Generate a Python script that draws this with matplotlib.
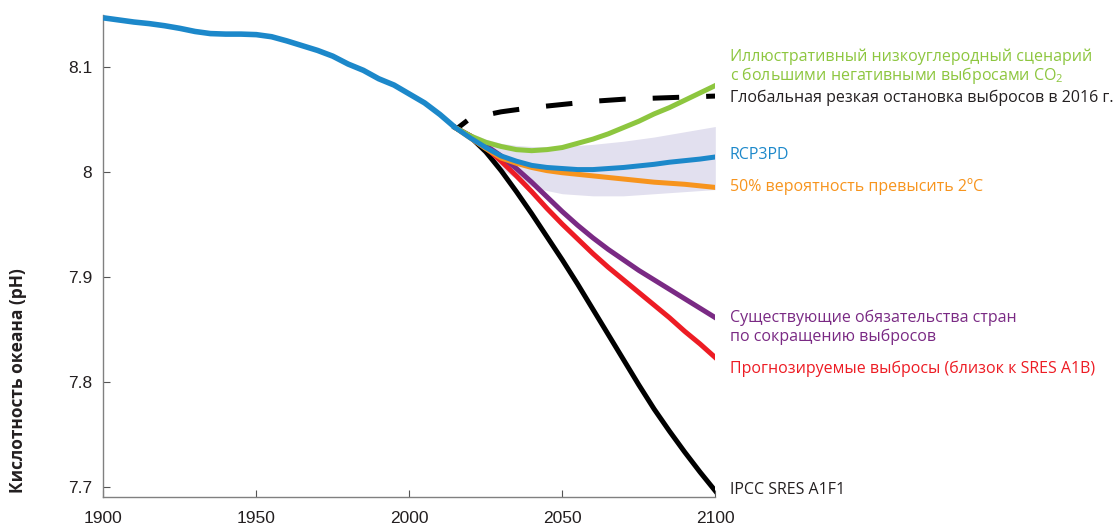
import matplotlib
matplotlib.use("Agg")
import matplotlib.pyplot as plt

# Historical ocean pH
hist_years = [1900, 1905, 1910, 1915, 1920, 1925, 1930, 1935, 1940, 1945, 1950,
              1955, 1960, 1965, 1970, 1975, 1980, 1985, 1990, 1995, 2000, 2005,
              2010, 2015]
hist_ph = [8.1465, 8.1445, 8.1425, 8.1410, 8.1390, 8.1365, 8.1335, 8.1315, 8.1310,
           8.1310, 8.1305, 8.1285, 8.1245, 8.1200, 8.1155, 8.1100, 8.1025, 8.0965,
           8.0885, 8.0825, 8.0740, 8.0655, 8.0545, 8.0420]

# Scenario projections, 2015-2100
proj_years = [2015, 2020, 2025, 2030, 2035, 2040, 2045, 2050, 2055, 2060, 2065,
              2070, 2075, 2080, 2085, 2090, 2095, 2100]
ph_negative_emissions = [8.042, 8.034, 8.028, 8.024, 8.021, 8.020, 8.021, 8.023, 8.027,
                         8.031, 8.036, 8.042, 8.048, 8.055, 8.061, 8.068, 8.075, 8.082]
ph_rcp3pd = [8.042, 8.032, 8.023, 8.015, 8.010, 8.006, 8.004, 8.003, 8.002,
             8.002, 8.003, 8.004, 8.0055, 8.007, 8.009, 8.0105, 8.012, 8.014]
ph_2c_50pct = [8.042, 8.032, 8.022, 8.013, 8.008, 8.004, 8.001, 7.999, 7.9975,
               7.996, 7.9945, 7.993, 7.9915, 7.990, 7.989, 7.988, 7.9865, 7.985]
ph_pledges = [8.042, 8.034, 8.025, 8.015, 8.003, 7.990, 7.976, 7.962, 7.949,
              7.937, 7.926, 7.916, 7.906, 7.897, 7.888, 7.879, 7.870, 7.861]
ph_projected = [8.042, 8.034, 8.023, 8.010, 7.996, 7.981, 7.965, 7.950, 7.936,
                7.922, 7.909, 7.897, 7.885, 7.873, 7.861, 7.848, 7.836, 7.823]
ph_a1f1 = [8.042, 8.033, 8.019, 8.001, 7.981, 7.960, 7.938, 7.916, 7.893,
           7.869, 7.845, 7.821, 7.797, 7.774, 7.753, 7.733, 7.714, 7.696]
band_upper = [8.042, 8.037, 8.031, 8.027, 8.025, 8.024, 8.024, 8.024, 8.025,
              8.026, 8.0275, 8.029, 8.031, 8.033, 8.0355, 8.038, 8.0405, 8.043]
band_lower = [8.042, 8.030, 8.015, 8.003, 7.993, 7.986, 7.982, 7.979, 7.978,
              7.977, 7.977, 7.977, 7.978, 7.979, 7.980, 7.981, 7.982, 7.983]

# Abrupt global stop of emissions in 2016
stop_years = [2016, 2020, 2030, 2040, 2050, 2060, 2070, 2080, 2090, 2100]
stop_ph = [8.042, 8.051, 8.057, 8.061, 8.064, 8.067, 8.069, 8.070, 8.071, 8.072]

x_ticks = [1900, 1950, 2000, 2050, 2100]
y_ticks = [7.7, 7.8, 7.9, 8.0, 8.1]
y_ticklabels = ["7.7", "7.8", "7.9", "8", "8.1"]

C_GREEN = "#8dc63f"
C_BLUE = "#1c88ca"
C_ORANGE = "#f7941d"
C_PURPLE = "#7a2a84"
C_RED = "#ed1c24"
C_BLACK = "#000000"
C_TEXT = "#231f20"
C_BAND = "#e2e0ef"

plt.rcParams["mathtext.fontset"] = "custom"
plt.rcParams["mathtext.rm"] = "Open Sans"

fig = plt.figure(figsize=(11.14, 5.26), dpi=100)
ax = fig.add_axes([0.0927, 0.0557, 0.5494, 0.9158])

LW = 3.6
ax.fill_between(proj_years, band_lower, band_upper, color=C_BAND, lw=0, zorder=1)
ax.plot(stop_years, stop_ph, color=C_BLACK, lw=LW, zorder=2,
        linestyle=(3.0, (5.3, 5.4)), solid_capstyle="butt", dash_capstyle="butt")
ax.plot(proj_years, ph_a1f1, color=C_BLACK, lw=LW, zorder=3)
ax.plot(proj_years, ph_projected, color=C_RED, lw=LW, zorder=4)
ax.plot(proj_years, ph_pledges, color=C_PURPLE, lw=LW, zorder=5)
ax.plot(proj_years, ph_2c_50pct, color=C_ORANGE, lw=LW, zorder=6)
ax.plot(proj_years, ph_negative_emissions, color=C_GREEN, lw=LW, zorder=7)
ax.plot(proj_years, ph_rcp3pd, color=C_BLUE, lw=LW, zorder=8)
ax.plot(hist_years, hist_ph, color=C_BLUE, lw=LW + 0.4, zorder=9, solid_capstyle="butt")

ax.set_xlim(1900, 2100)
ax.set_ylim(7.6905, 8.1492)
ax.set_xticks(x_ticks)
ax.set_xticklabels([str(t) for t in x_ticks])
ax.set_yticks(y_ticks)
ax.set_yticklabels(y_ticklabels)

for side in ("top", "right"):
    ax.spines[side].set_visible(False)
for side in ("left", "bottom"):
    ax.spines[side].set_color("#808080")
    ax.spines[side].set_linewidth(1.0)

ax.tick_params(axis="both", direction="in", length=5, width=0.8, color="#555555",
               labelsize=12.5, labelcolor=C_TEXT)
ax.tick_params(axis="y", pad=8)
ax.tick_params(axis="x", pad=10)
for lbl in ax.get_xticklabels() + ax.get_yticklabels():
    lbl.set_fontfamily("Liberation Sans")

fig.text(0.0165, 0.276, "Кислотность океана (pH)", rotation=90, ha="center",
         va="center", fontsize=12.5, fontweight="bold", color=C_TEXT,
         family="Open Sans")

# Scenario labels at the right-hand end of each curve
lab_x = 2104.8
lab_kw = dict(fontsize=11.5, family="Open Sans", ha="left", va="center", clip_on=False)
ax.text(lab_x, 8.1095, "Иллюстративный низкоуглеродный сценарий", color=C_GREEN, **lab_kw)
ax.text(lab_x, 8.0915, "с большими негативными выбросами CO$_{2}$", color=C_GREEN, **lab_kw)
ax.text(lab_x, 8.0705, "Глобальная резкая остановка выбросов в 2016 г.", color=C_TEXT, **lab_kw)
ax.text(lab_x, 8.0155, "RCP3PD", color=C_BLUE, **lab_kw)
ax.text(lab_x, 7.9860, "50% вероятность превысить 2ºC", color=C_ORANGE, **lab_kw)
ax.text(lab_x, 7.8610, "Существующие обязательства стран", color=C_PURPLE, **lab_kw)
ax.text(lab_x, 7.8430, "по сокращению выбросов", color=C_PURPLE, **lab_kw)
ax.text(lab_x, 7.8125, "Прогнозируемые выбросы (близок к SRES A1B)", color=C_RED, **lab_kw)
ax.text(lab_x, 7.6970, "IPCC SRES A1F1", color=C_TEXT, **lab_kw)

fig.savefig("out.png", dpi=100)
